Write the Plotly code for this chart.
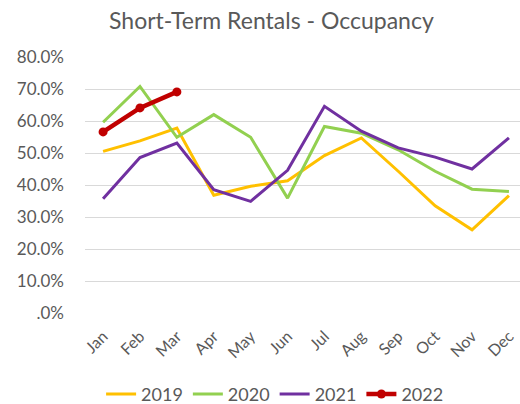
import plotly.graph_objects as go

months = ["Jan", "Feb", "Mar", "Apr", "May", "Jun", "Jul", "Aug", "Sep", "Oct", "Nov", "Dec"]
occ_2019 = [0.505, 0.538, 0.578, 0.368, 0.396, 0.413, 0.492, 0.547, 0.443, 0.335, 0.260, 0.367]
occ_2020 = [0.596, 0.708, 0.549, 0.620, 0.549, 0.359, 0.583, 0.562, 0.510, 0.443, 0.387, 0.380]
occ_2021 = [0.357, 0.486, 0.531, 0.385, 0.349, 0.446, 0.646, 0.568, 0.516, 0.487, 0.450, 0.547]
occ_2022 = [0.566, 0.641, 0.691]
tick_vals = [0.0, 0.1, 0.2, 0.3, 0.4, 0.5, 0.6, 0.7, 0.8]
tick_text = [".0%", "10.0%", "20.0%", "30.0%", "40.0%", "50.0%", "60.0%", "70.0%", "80.0%"]

FONT = "Lato"
TXT = "#595959"

fig = go.Figure()
fig.add_trace(go.Scatter(x=months, y=occ_2019, name="2019", mode="lines",
                         line=dict(color="#FFC000", width=3)))
fig.add_trace(go.Scatter(x=months, y=occ_2020, name="2020", mode="lines",
                         line=dict(color="#92D050", width=3)))
fig.add_trace(go.Scatter(x=months, y=occ_2021, name="2021", mode="lines",
                         line=dict(color="#7030A0", width=3)))
fig.add_trace(go.Scatter(x=months[:len(occ_2022)], y=occ_2022, name="2022", mode="lines+markers",
                         line=dict(color="#C00000", width=4.5),
                         marker=dict(color="#C00000", size=9)))

fig.update_layout(
    width=520, height=404,
    paper_bgcolor="white", plot_bgcolor="white",
    margin=dict(l=85, r=0, t=57, b=91, autoexpand=False),
    font=dict(family=FONT, color=TXT, size=16),
    title=dict(text="Short-Term Rentals - Occupancy", x=0.522, xanchor="center",
               y=0.948, yanchor="middle", font=dict(size=23, color=TXT, family=FONT)),
    showlegend=True,
    legend=dict(orientation="h", x=0.437, xanchor="center", y=-0.39, yanchor="bottom",
                font=dict(size=18, color=TXT), itemwidth=30, tracegroupgap=0,
                bgcolor="rgba(0,0,0,0)"),
    xaxis=dict(type="category", range=[-0.49, 11.3], tickangle=-45,
               showgrid=False, showline=False, zeroline=False, ticks="",
               ticklabelstandoff=10, tickfont=dict(size=16, color=TXT)),
    yaxis=dict(range=[0, 0.8], tickvals=tick_vals, ticktext=tick_text,
               showgrid=True, gridcolor="#D9D9D9", gridwidth=1.3, zeroline=False,
               showline=False, ticks="", ticklabelstandoff=20,
               tickfont=dict(size=17, color=TXT)),
)

fig.write_html("out.html", config={"displayModeBar": False},
               post_script="document.body.style.margin='0';")
